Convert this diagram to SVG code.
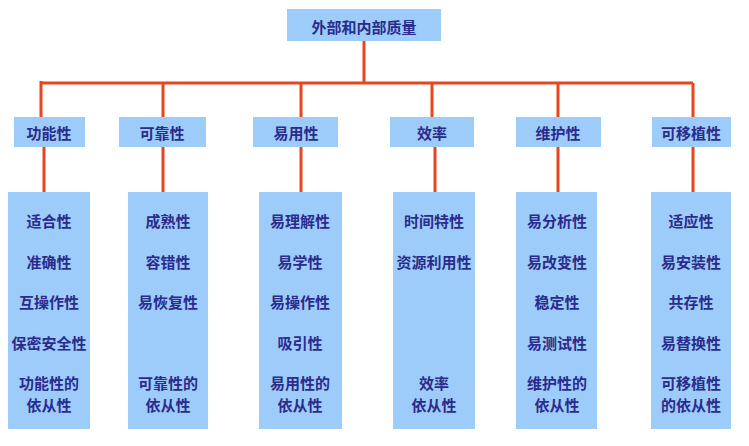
<svg xmlns="http://www.w3.org/2000/svg" width="749" height="446" viewBox="0 0 749 446">
<style>
.b{fill:#9dccfa}
.t{font-family:"Noto Sans CJK SC",sans-serif;font-weight:bold;font-size:15px;fill:#2b2b8c;text-anchor:middle;dominant-baseline:central}
.c{stroke:#e8461e;stroke-width:3;fill:none}
</style>
<rect width="749" height="446" fill="#fff"/>
<g id="connectors">
<path class="c" d="M364 41V83M40 83H693M41 81V117M163 83V117M301 83V117M432 83V117M558 83V117M693 83V117"/>
<path class="c" d="M44 147V192M163 147V192M301 147V192M435 147V192M558 147V192M693 147V192"/>
</g>
<g id="root"><rect class="b" x="287" y="9" width="154" height="32"/><text class="t" x="364" y="26">外部和内部质量</text></g>
<g id="n1"><rect class="b" x="14" y="117" width="71" height="30"/><text class="t" x="49" y="132">功能性</text></g>
<g id="n2"><rect class="b" x="119" y="117" width="87" height="30"/><text class="t" x="162" y="132">可靠性</text></g>
<g id="n3"><rect class="b" x="253" y="117" width="85" height="30"/><text class="t" x="296" y="132">易用性</text></g>
<g id="n4"><rect class="b" x="390" y="117" width="84" height="30"/><text class="t" x="432" y="132">效率</text></g>
<g id="n5"><rect class="b" x="516" y="117" width="85" height="30"/><text class="t" x="558" y="132">维护性</text></g>
<g id="n6"><rect class="b" x="652" y="117" width="79" height="30"/><text class="t" x="691" y="132">可移植性</text></g>
<g id="l1"><rect class="b" x="8" y="192" width="82" height="237"/>
<text class="t" x="49" y="220">适合性</text><text class="t" x="49" y="261">准确性</text><text class="t" x="49" y="301">互操作性</text><text class="t" x="49" y="342">保密安全性</text><text class="t" x="49" y="382">功能性的</text><text class="t" x="49" y="404">依从性</text></g>
<g id="l2"><rect class="b" x="128" y="192" width="80" height="237"/>
<text class="t" x="168" y="220">成熟性</text><text class="t" x="168" y="261">容错性</text><text class="t" x="168" y="301">易恢复性</text><text class="t" x="168" y="382">可靠性的</text><text class="t" x="168" y="404">依从性</text></g>
<g id="l3"><rect class="b" x="259" y="192" width="83" height="237"/>
<text class="t" x="300" y="220">易理解性</text><text class="t" x="300" y="261">易学性</text><text class="t" x="300" y="301">易操作性</text><text class="t" x="300" y="342">吸引性</text><text class="t" x="300" y="382">易用性的</text><text class="t" x="300" y="404">依从性</text></g>
<g id="l4"><rect class="b" x="393" y="192" width="82" height="237"/>
<text class="t" x="434" y="220">时间特性</text><text class="t" x="434" y="261">资源利用性</text><text class="t" x="434" y="382">效率</text><text class="t" x="434" y="404">依从性</text></g>
<g id="l5"><rect class="b" x="516" y="192" width="81" height="237"/>
<text class="t" x="557" y="220">易分析性</text><text class="t" x="557" y="261">易改变性</text><text class="t" x="557" y="301">稳定性</text><text class="t" x="557" y="342">易测试性</text><text class="t" x="557" y="382">维护性的</text><text class="t" x="557" y="404">依从性</text></g>
<g id="l6"><rect class="b" x="651" y="192" width="80" height="237"/>
<text class="t" x="691" y="220">适应性</text><text class="t" x="691" y="261">易安装性</text><text class="t" x="691" y="301">共存性</text><text class="t" x="691" y="342">易替换性</text><text class="t" x="691" y="382">可移植性</text><text class="t" x="691" y="404">的依从性</text></g>
</svg>
